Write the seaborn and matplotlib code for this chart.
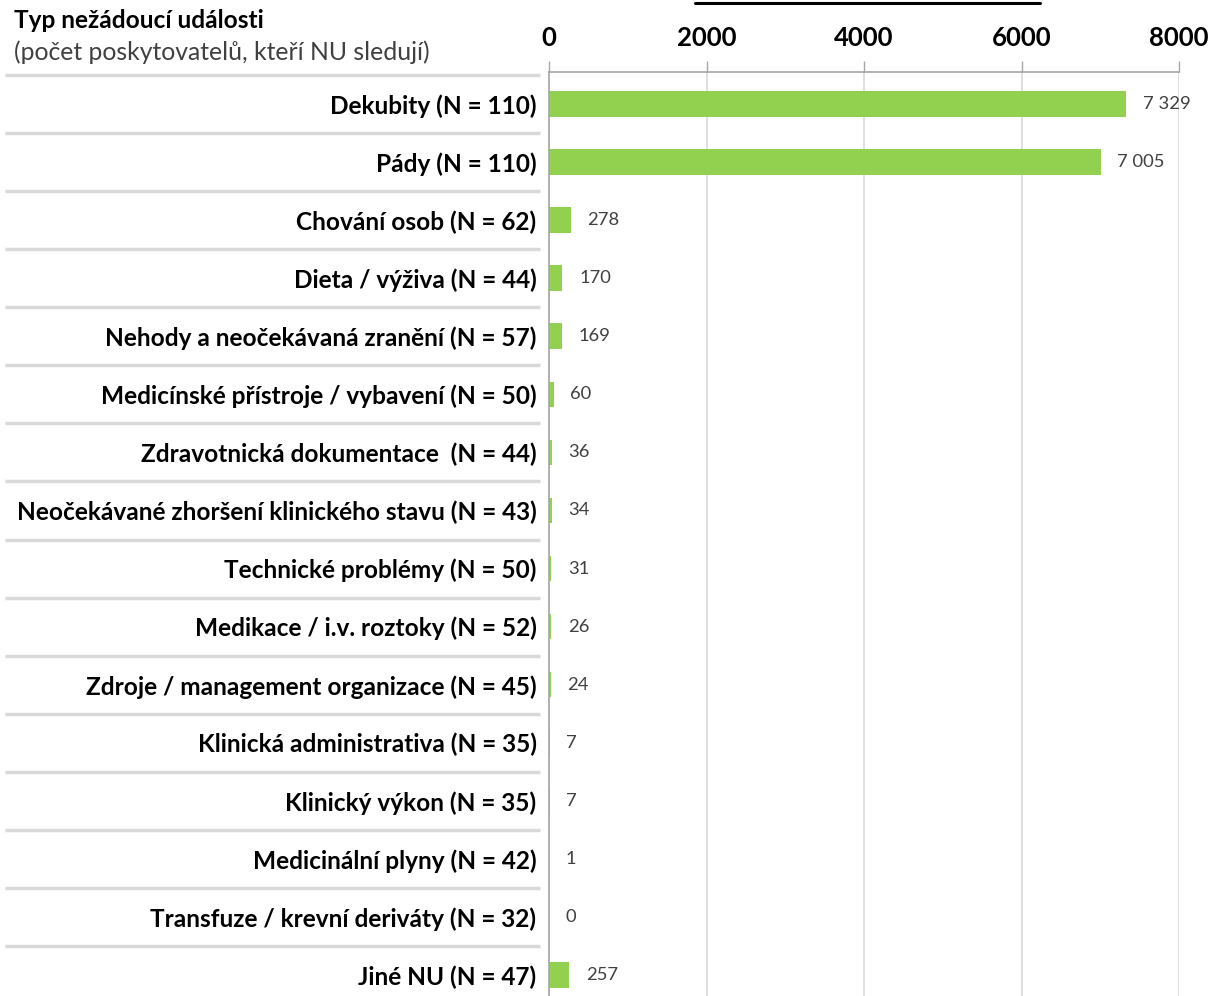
import matplotlib
matplotlib.use("Agg")
import matplotlib.pyplot as plt
import seaborn as sns
import pandas as pd
from matplotlib.lines import Line2D

# Event types, number of providers that monitor them, and reported event counts
categories = [
    "Dekubity", "Pády", "Chování osob", "Dieta / výživa",
    "Nehody a neočekávaná zranění", "Medicínské přístroje / vybavení",
    "Zdravotnická dokumentace ", "Neočekávané zhoršení klinického stavu",
    "Technické problémy", "Medikace / i.v. roztoky",
    "Zdroje / management organizace", "Klinická administrativa",
    "Klinický výkon", "Medicinální plyny", "Transfuze / krevní deriváty",
    "Jiné NU",
]
providers = [110, 110, 62, 44, 57, 50, 44, 43, 50, 52, 45, 35, 35, 42, 32, 47]
events = [7329, 7005, 278, 170, 169, 60, 36, 34, 31, 26, 24, 7, 7, 1, 0, 257]
x_ticks = [0, 2000, 4000, 6000, 8000]

labels = [f"{c} (N = {n})" for c, n in zip(categories, providers)]
df = pd.DataFrame({"label": labels, "events": events})

sns.set_theme(style="white")
plt.rcParams["font.family"] = ["Lato", "DejaVu Sans"]

W, H = 1211, 996
fig = plt.figure(figsize=(W / 100, H / 100), dpi=100)
ax = fig.add_axes([549 / W, 0, 630 / W, (H - 72) / H])

sns.barplot(data=df, y="label", x="events", color="#92D050", orient="h",
            width=0.44, saturation=1, ax=ax, edgecolor="none")

ax.set_xlim(0, 8000)
ax.set_ylim(15.36, -0.55)
ax.set_xlabel("")
ax.set_ylabel("")

# top axis with ticks pointing up
ax.xaxis.tick_top()
ax.set_xticks(x_ticks)
ax.set_xticklabels([str(t) for t in x_ticks], fontsize=18.5, fontweight="bold",
                   color="black")
ax.tick_params(axis="x", which="both", direction="out", length=8, width=1,
               color="#a6a6a6", pad=8, top=True, bottom=False)
ax.tick_params(axis="y", length=0, pad=9)
for t in ax.get_yticklabels():
    t.set_fontsize(17.6)
    t.set_fontweight("bold")
    t.set_color("black")

for s in ["right", "bottom"]:
    ax.spines[s].set_visible(False)
for s in ["top", "left"]:
    ax.spines[s].set_color("#a6a6a6")
    ax.spines[s].set_linewidth(1.2)

ax.grid(axis="x", color="#d9d9d9", linewidth=1.2)
ax.set_axisbelow(True)

# value labels next to each bar
for i, v in enumerate(events):
    ax.annotate(f"{v:,}".replace(",", " "), xy=(v, i), xytext=(12, 0),
                textcoords="offset points", va="center", ha="left",
                fontsize=13.2, color="#404040")

# separators between category labels
ytr = ax.get_yaxis_transform()
for b in [i - 0.5 for i in range(len(categories))]:
    ax.plot([-0.8635, -0.0143], [b, b], transform=ytr, color="#d9d9d9",
            linewidth=2.5, clip_on=False, solid_capstyle="butt")

# heading of the category column
fig.text(14 / W, 1 - 21 / H, "Typ nežádoucí události", fontsize=17.6,
         fontweight="bold", color="black", va="center", ha="left")
fig.text(14 / W, 1 - 52 / H, "(počet poskytovatelů, kteří NU sledují)",
         fontsize=17.8, color="#404040", va="center", ha="left")

# underline of the value-axis heading
fig.add_artist(Line2D([695 / W, 1040 / W], [1 - 3 / H, 1 - 3 / H],
                      color="black", linewidth=2.2))

fig.savefig("out.png", dpi=100)
